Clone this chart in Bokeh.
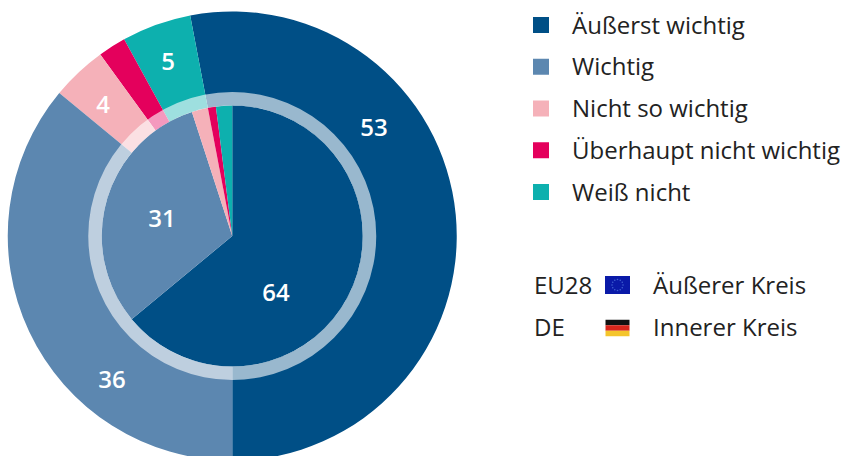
from bokeh.plotting import figure
from bokeh.embed import file_html
from bokeh.resources import INLINE
from bokeh.core.properties import value
import numpy as np

categories = ["Äußerst wichtig", "Wichtig", "Nicht so wichtig", "Überhaupt nicht wichtig", "Weiß nicht"]
colors = ["#004F86", "#5C87B0", "#F5B1B9", "#E4005C", "#0DB0AE"]
eu28 = [53, 36, 4, 2, 5]
de = [64, 31, 2, 1, 2]
eu_labels = {0: "53", 1: "36", 2: "4", 4: "5"}
de_labels = {0: "64", 1: "31"}

W, H = 843, 456
CX, CY = 231.75, H - 235.5
R_OUT, R_RING, R_IN = 224.5, 144, 130.5
FONT = value("Open Sans")
BOLD = value("Open Sans SemiBold")
TEXT = "#222222"

# hand-placed value labels, in page pixels
eu_pos = {0: (373.5, 126.5), 1: (111.5, 378.5), 2: (102.5, 103.5), 4: (167.5, 60.5)}
de_pos = {0: (275.5, 291.5), 1: (161.5, 217.5)}

p = figure(width=W, height=H, x_range=(0, W), y_range=(0, H), output_backend="svg",
           toolbar_location=None, min_border=0, outline_line_color=None,
           background_fill_color=None, border_fill_color=None)
p.axis.visible = False
p.grid.visible = False


def wedges(vals, start_deg, sign):
    e = np.cumsum(vals) * 3.6
    s = e - np.array(vals) * 3.6
    return np.radians(start_deg + sign * s), np.radians(start_deg + sign * e)


# outer ring: from the bottom, running counter-clockwise
order = [0, 4, 3, 2, 1]
a0, a1 = wedges([eu28[i] for i in order], -90, 1)
for k, i in enumerate(order):
    p.annular_wedge(CX, CY, R_IN, R_OUT, a0[k], a1[k], fill_color=colors[i], line_color=None)

# inner pie: from the top, running clockwise
b0, b1 = wedges(de, 90, -1)
for k in range(len(de)):
    p.wedge(CX, CY, R_IN, b1[k], b0[k], fill_color=colors[k], line_color=None)

# translucent white ring between the two
p.annular_wedge(CX, CY, R_IN, R_RING, 0, 2 * np.pi, fill_color="white", fill_alpha=0.6, line_color=None)

for labels, pos in ((eu_labels, eu_pos), (de_labels, de_pos)):
    for i, t in labels.items():
        p.text(pos[i][0], H - pos[i][1], text=[t], text_color="white", text_font=BOLD,
               text_font_size="24px", text_align="center", text_baseline="middle")

# legend
LX, LT = 540.5, 571.5
for n, (c, t) in enumerate(zip(colors, categories)):
    y = H - (24.5 + n * 41.75)
    p.rect(LX, y, 16, 16, fill_color=c, line_color=None)
    p.text(LT, y + 1, text=[t], text_color=TEXT, text_font=FONT, text_font_size="24px",
           text_baseline="middle")

# flag key
y1, y2 = H - 284.5, H - 327.5
for x, y, t in ((533.5, H - 284, "EU28"), (533.5, H - 326, "DE"), (652.5, H - 284, "Äußerer Kreis"), (652.5, H - 326, "Innerer Kreis")):
    p.text(x, y, text=[t], text_color=TEXT, text_font=FONT, text_font_size="24px", text_baseline="middle")

FX, FW, FH = 617, 25, 18
p.rect(FX, y1, FW, FH, fill_color="#0A1AA8", line_color=None)
ang = np.arange(12) * np.pi / 6
p.scatter(FX + 5.5 * np.cos(ang), y1 + 5.5 * np.sin(ang), size=1.6, fill_color="#3F5FD0", line_color=None)
for j, c in enumerate(["#111111", "#D8261C", "#F4C52C"]):
    p.rect(FX, y2 + (1 - j) * 5.5, 24, 5.5, fill_color=c, line_color=None)

open("out.html", "w").write(file_html(p, INLINE))
